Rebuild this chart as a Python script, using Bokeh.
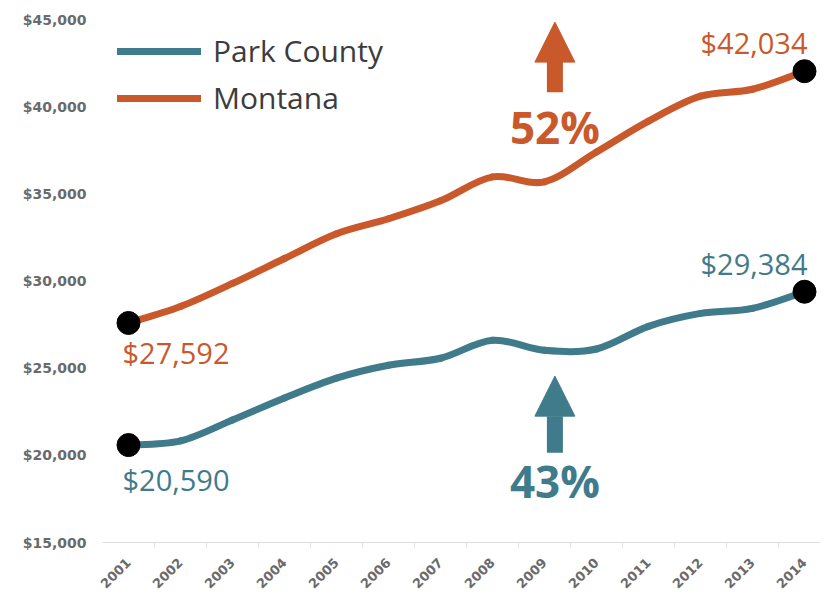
from bokeh.plotting import figure
from bokeh.models import (FixedTicker, NumeralTickFormatter, Range1d, Arrow, NormalHead,
                          Legend, LegendItem, ColumnDataSource)
from bokeh.core.properties import value
from bokeh.embed import file_html
from bokeh.resources import INLINE
import math

# ---------------- data ----------------
years = [2001, 2002, 2003, 2004, 2005, 2006, 2007, 2008, 2009, 2010, 2011, 2012, 2013, 2014]
park_county = [20590, 20830, 22030, 23290, 24430, 25170, 25570, 26600, 26030, 26100, 27400, 28140, 28430, 29384]
montana = [27592, 28540, 29860, 31290, 32710, 33570, 34600, 35970, 35690, 37400, 39170, 40600, 41000, 42034]
series_names = ["Park County", "Montana"]
y_ticks = [15000, 20000, 25000, 30000, 35000, 40000, 45000]

# ---------------- style ----------------
TEAL = "#3f7b8b"
ORANGE = "#c9592b"
ARROW_X = 2009.2
TICK_FONT = "DejaVu Sans"
LABEL_FONT = "Open Sans"

p = figure(frame_width=718, frame_height=523, min_border_left=102, min_border_right=0,
           min_border_top=19, min_border_bottom=49,
           x_range=Range1d(2000.5, 2000.5 + 718 / 52.0), y_range=Range1d(15000, 45000),
           output_backend="svg", toolbar_location=None)
p.outline_line_color = None
p.xgrid.grid_line_color = None
p.ygrid.grid_line_color = None

# y axis
p.yaxis.ticker = FixedTicker(ticks=y_ticks)
p.yaxis.formatter = NumeralTickFormatter(format="$0,0")
p.yaxis.axis_line_color = None
p.yaxis.major_tick_line_color = None
p.yaxis.minor_tick_line_color = None
p.yaxis.major_tick_out = 0
p.yaxis.major_label_standoff = 16
p.yaxis.major_label_text_font = TICK_FONT
p.yaxis.major_label_text_font_style = "bold"
p.yaxis.major_label_text_font_size = "14px"
p.yaxis.major_label_text_color = "#6a6a6a"

# x axis
p.xaxis.ticker = FixedTicker(ticks=years, minor_ticks=[y + 0.5 for y in years[:-1]])
p.xaxis.axis_line_color = "#dddddd"
p.xaxis.axis_line_width = 1
p.xaxis.major_tick_line_color = None
p.xaxis.major_tick_out = 0
p.xaxis.minor_tick_line_color = "#e4e4e4"
p.xaxis.minor_tick_out = 6
p.xaxis.minor_tick_in = 0
p.xaxis.major_label_orientation = math.pi / 4
p.xaxis.major_label_standoff = 12
p.xaxis.major_label_text_font = TICK_FONT
p.xaxis.major_label_text_font_style = "bold"
p.xaxis.major_label_text_font_size = "13px"
p.xaxis.major_label_text_color = "#6a6a6a"


def bezier_source(xs, ys):
    n = len(xs)
    x0, y0, x1, y1, cx0, cy0, cx1, cy1 = [], [], [], [], [], [], [], []
    for i in range(n - 1):
        im1 = max(i - 1, 0)
        ip2 = min(i + 2, n - 1)
        x0.append(xs[i]); y0.append(ys[i])
        x1.append(xs[i + 1]); y1.append(ys[i + 1])
        cx0.append(xs[i] + (xs[i + 1] - xs[im1]) / 6.0)
        cy0.append(ys[i] + (ys[i + 1] - ys[im1]) / 6.0)
        cx1.append(xs[i + 1] - (xs[ip2] - xs[i]) / 6.0)
        cy1.append(ys[i + 1] - (ys[ip2] - ys[i]) / 6.0)
    return ColumnDataSource(dict(x0=x0, y0=y0, x1=x1, y1=y1, cx0=cx0, cy0=cy0, cx1=cx1, cy1=cy1))


items = []
for name, vals, col in [(series_names[0], park_county, TEAL), (series_names[1], montana, ORANGE)]:
    r = p.bezier(x0="x0", y0="y0", x1="x1", y1="y1", cx0="cx0", cy0="cy0", cx1="cx1", cy1="cy1",
                 source=bezier_source(years, vals), line_color=col, line_width=7, line_cap="round")
    items.append(LegendItem(label=name, renderers=[r]))
    # end-point dots
    p.scatter([years[0], years[-1]], [vals[0], vals[-1]], size=23, color="black")

# end value labels
for vals, col, dy_first, dy_last in [(park_county, TEAL, 34, -28), (montana, ORANGE, 30, -29)]:
    p.text([years[0]], [vals[0]], text=[f"${vals[0]:,}"], x_offset=-6, y_offset=dy_first,
           text_align="left", text_baseline="middle", text_font=value(LABEL_FONT),
           text_font_size="29px", text_color=col)
    p.text([years[-1]], [vals[-1]], text=[f"${vals[-1]:,}"], x_offset=3, y_offset=dy_last,
           text_align="right", text_baseline="middle", text_font=value(LABEL_FONT),
           text_font_size="29px", text_color=col)

# growth arrows and percentages
mt_pct = round((montana[-1] / montana[0] - 1) * 100)
pc_pct = round((park_county[-1] / park_county[0] - 1) * 100)

p.add_layout(Arrow(end=NormalHead(size=40, fill_color=ORANGE, line_color=ORANGE, line_width=1),
                   x_start=ARROW_X, y_start=40829, x_end=ARROW_X, y_end=44850,
                   line_color=ORANGE, line_width=16))
p.add_layout(Arrow(end=NormalHead(size=40, fill_color=TEAL, line_color=TEAL, line_width=1),
                   x_start=ARROW_X, y_start=20143, x_end=ARROW_X, y_end=24543,
                   line_color=TEAL, line_width=16))

p.text([ARROW_X], [38829], text=[f"{mt_pct}%"], text_align="center", text_baseline="middle",
       text_font=value(LABEL_FONT), text_font_style="bold", text_font_size="44px", text_color=ORANGE)
p.text([ARROW_X], [18543], text=[f"{pc_pct}%"], text_align="center", text_baseline="middle",
       text_font=value(LABEL_FONT), text_font_style="bold", text_font_size="44px", text_color=TEAL)

legend = Legend(items=items, location=(15, 424), padding=0, margin=0, spacing=6,
                glyph_width=84, glyph_height=40, label_standoff=12,
                label_text_font=LABEL_FONT, label_text_font_size="30px",
                label_text_color="#3c3c3c", label_text_baseline="middle",
                border_line_color=None, background_fill_alpha=0)
p.add_layout(legend)

open("out.html", "w").write(file_html(p, INLINE))
